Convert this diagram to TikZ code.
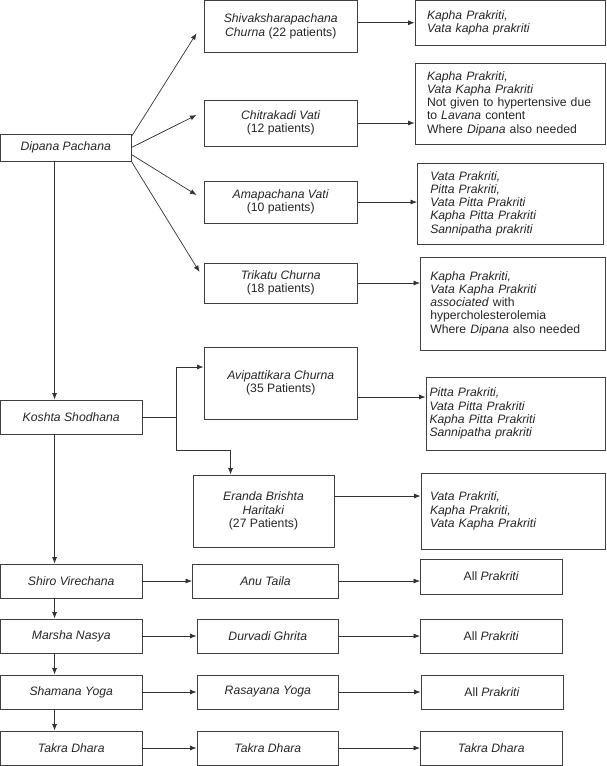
\documentclass[tikz,border=0pt]{standalone}
\usepackage{fontspec}
\setmainfont{Liberation Sans}
\usetikzlibrary{arrows.meta,calc,positioning}

\begin{document}
\begin{tikzpicture}[x=1pt,y=-1pt,>={Latex[length=6.5pt,width=5pt]},
  cell/.style={draw=black!75,line width=0.9pt,inner sep=0pt,align=center,text=black!85,
    font=\fontsize{12.2}{13.3}\selectfont},
  note/.style={cell,align=left},
  link/.style={->,draw=black!80,line width=0.7pt}]
\useasboundingbox (0,0) rectangle (606,766);
% left column
\node[cell,minimum width=130.5,minimum height=27] (dip) at (65.75,147.5) {\textit{Dipana Pachana}};
\node[cell,minimum width=141.5,minimum height=34] (kos) at (71.25,417) {\textit{Koshta Shodhana}};
\node[cell,minimum width=141.5,minimum height=34] (shi) at (71.25,581) {\textit{Shiro Virechana}};
\node[cell,minimum width=141.5,minimum height=34] (mar) at (71.25,636) {\textit{Marsha Nasya}};
\node[cell,minimum width=141.5,minimum height=34] (sha) at (71.25,692) {\textit{Shamana Yoga}};
\node[cell,minimum width=141.5,minimum height=34] (tak) at (71.25,748) {\textit{Takra Dhara}};
% middle column
\node[cell,minimum width=153.5,minimum height=51.5] (shiv) at (280.75,26.25) {\textit{Shivaksharapachana}\\\textit{Churna} (22 patients)};
\node[cell,minimum width=153.5,minimum height=46] (chit) at (280.75,123) {\textit{Chitrakadi Vati}\\(12 patients)};
\node[cell,minimum width=153.5,minimum height=42] (ama) at (280.75,202) {\textit{Amapachana Vati}\\(10 patients)};
\node[cell,minimum width=153.5,minimum height=40] (tri) at (280.75,283) {\textit{Trikatu Churna}\\(18 patients)};
\node[cell,minimum width=153.5,minimum height=72] (avi) at (280.75,383) {\textit{Avipattikara Churna}\\(35 Patients)};
\node[cell,minimum width=141,minimum height=72] (era) at (263.5,511) {\textit{Eranda Brishta}\\\textit{Haritaki}\\(27 Patients)};
\node[cell,minimum width=146,minimum height=34] (anu) at (265.5,581) {\textit{Anu Taila}};
\node[cell,minimum width=141.6,minimum height=34] (dur) at (267.8,636) {\textit{Durvadi Ghrita}};
\node[cell,minimum width=141.6,minimum height=34] (ras) at (267.8,692) {\textit{Rasayana Yoga}};
\node[cell,minimum width=141.6,minimum height=34] (tk2) at (267.8,748) {\textit{Takra Dhara}};
% right column
\node[note,minimum width=190,minimum height=44.5,text width=166] (r1) at (510,22.75)
  {\textit{Kapha Prakriti,}\\\textit{Vata kapha prakriti}};
\node[note,minimum width=190,minimum height=81,text width=166] (r2) at (510,103.5)
  {\textit{Kapha Prakriti,}\\\textit{Vata Kapha Prakriti}\\Not given to hypertensive due\\to \textit{Lavana} content\\Where \textit{Dipana} also needed};
\node[note,minimum width=185.5,minimum height=81,text width=160] (r3) at (510.25,203.5)
  {\textit{Vata Prakriti,}\\\textit{Pitta Prakriti,}\\\textit{Vata Pitta Prakriti}\\\textit{Kapha Pitta Prakriti}\\\textit{Sannipatha prakriti}};
\node[note,minimum width=184.5,minimum height=93,text width=165] (r4) at (512.75,303.5)
  {\textit{Kapha Prakriti,}\\\textit{Vata Kapha Prakriti}\\\textit{associated} with\\hypercholesterolemia\\Where \textit{Dipana} also needed};
\node[note,minimum width=179,minimum height=73,text width=172] (r5) at (515.5,413.5)
  {\textit{Pitta Prakriti,}\\\textit{Vata Pitta Prakriti}\\\textit{Kapha Pitta Prakriti}\\\textit{Sannipatha prakriti}};
\node[note,minimum width=184,minimum height=76,text width=166] (r6) at (513,511)
  {\textit{Vata Prakriti,}\\\textit{Kapha Prakriti,}\\\textit{Vata Kapha Prakriti}};
\node[cell,minimum width=141.5,minimum height=35] (a1) at (491.25,576.5) {All \textit{Prakriti}};
\node[cell,minimum width=141.5,minimum height=34] (a2) at (491.25,636) {All \textit{Prakriti}};
\node[cell,minimum width=142,minimum height=34] (a3) at (492,692) {All \textit{Prakriti}};
\node[cell,minimum width=141.5,minimum height=34] (a4) at (491.25,748) {\textit{Takra Dhara}};
% fan out of Dipana Pachana
\draw[link] ($(dip.north east)+(0,3)$) -- ($(shiv.west)+(-7,7)$);
\draw[link] (dip.east) -- ($(chit.west)+(-7,-8)$);
\draw[link] ($(dip.east)+(0,7)$) -- ($(ama.west)+(-7,-7)$);
\draw[link] (dip.south east) -- ($(tri.west)+(-4,-11)$);
\draw[link] (shiv.east |- r1.west) -- (r1.west);
\draw[link] (chit.east) -- (chit.east -| r2.west);
\draw[link] (ama.east) -- (ama.east -| r3.west);
\draw[link] (tri.east) -- (tri.east -| r4.west);
% Koshta Shodhana branch
\coordinate (br) at ($(kos.east)+(34,0)$);
\coordinate (bend) at ($(era.north west)+(38,-24)$);
\draw[link] (kos.east) -- (br) |- ($(avi.west)+(0,-16)$);
\draw[link] (br) |- (bend) -- ($(era.north west)+(38,0)$);
\coordinate (avo) at ($(avi.east)+(0,14)$);
\coordinate (ero) at ($(era.east)+(0,-15)$);
\draw[link] (avo) -- (avo -| r5.west);
\draw[link] (ero) -- (ero -| r6.west);
% main spine
\draw[link] ([xshift=54.5pt]dip.south west) -- ([xshift=54.5pt]kos.north west);
\draw[link] ([xshift=54.5pt]kos.south west) -- ([xshift=54.5pt]shi.north west);
\draw[link] ([xshift=54.5pt]shi.south west) -- ([xshift=54.5pt]mar.north west);
\draw[link] ([xshift=54.5pt]mar.south west) -- ([xshift=54.5pt]sha.north west);
\draw[link] ([xshift=54.5pt]sha.south west) -- ([xshift=54.5pt]tak.north west);
% rows
\draw[link] (shi) -- (anu);
\draw[link] (anu.east) -- (anu.east -| a1.west);
\draw[link] (mar) -- (dur);
\draw[link] (dur) -- (a2);
\draw[link] (sha) -- (ras);
\draw[link] (ras) -- (a3);
\draw[link] (tak) -- (tk2);
\draw[link] (tk2) -- (a4);
\end{tikzpicture}
\end{document}
